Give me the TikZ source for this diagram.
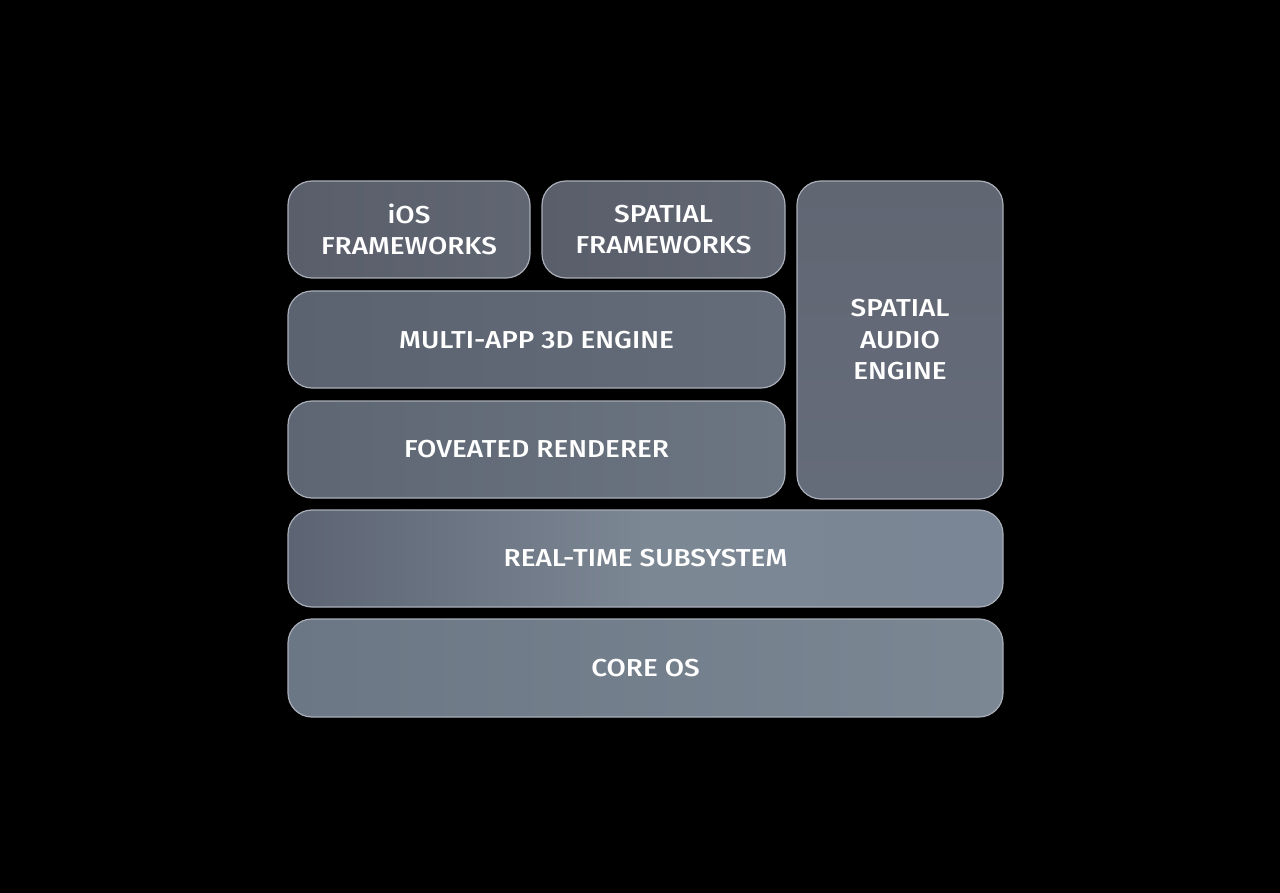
\documentclass[tikz,border=0pt]{standalone}
\usepackage{fontspec}
\setmainfont{Fira Sans}[UprightFont=* Medium, FakeStretch=1.14]
\begin{document}
\begin{tikzpicture}[x=1pt,y=-1pt]
\definecolor{c1}{HTML}{595E6A}
\definecolor{c1b}{HTML}{616673}
\definecolor{c2}{HTML}{5B6270}
\definecolor{c2b}{HTML}{656C79}
\definecolor{c3}{HTML}{5E6673}
\definecolor{c3b}{HTML}{6C7582}
\definecolor{c4}{HTML}{5C6473}
\definecolor{c4b}{HTML}{7A8695}
\definecolor{c5}{HTML}{6C7785}
\definecolor{c5b}{HTML}{7C8794}
\definecolor{rim}{HTML}{A9AEB8}
\tikzset{
  layer/.style={draw=rim, line width=1.2pt, rounded corners=24pt},
  lbl/.style={text=white, align=center, inner sep=0pt,
    font=\fontsize{24.5}{31.5}\selectfont},
}
\fill[black] (0,0) rectangle (1280,893);
\useasboundingbox (0,0) rectangle (1280,893);
\path[layer, left color=c1, right color=c1b] (288,181) rectangle (530,278);
\node[lbl] (ios) at (409,229.5) {iOS\\FRAMEWORKS};
\path[layer, left color=c1, right color=c1b] (542,181) rectangle (785,278);
\node[lbl] (spf) at (663.5,229.5) {SPATIAL\\FRAMEWORKS};
\path[layer, top color=c1b, bottom color=c2b] (797,181) rectangle (1003,499);
\node[lbl] (sae) at (900,340) {SPATIAL\\AUDIO\\ENGINE};
\path[layer, left color=c2, right color=c2b] (288,291) rectangle (785,388);
\node[lbl] (mae) at (536.5,340) {MULTI-APP 3D ENGINE};
\path[layer, left color=c3, right color=c3b] (288,401) rectangle (785,498);
\node[lbl] (fr) at (536.5,449.5) {FOVEATED RENDERER};
\path[layer, left color=c4, right color=c4b, middle color=c5b] (288,510) rectangle (1003,607);
\node[lbl] (rts) at (645.5,558.5) {REAL-TIME SUBSYSTEM};
\path[layer, left color=c5, right color=c5b] (288,619) rectangle (1003,717);
\node[lbl] (cos) at (645.5,668) {CORE OS};
\end{tikzpicture}
\end{document}
